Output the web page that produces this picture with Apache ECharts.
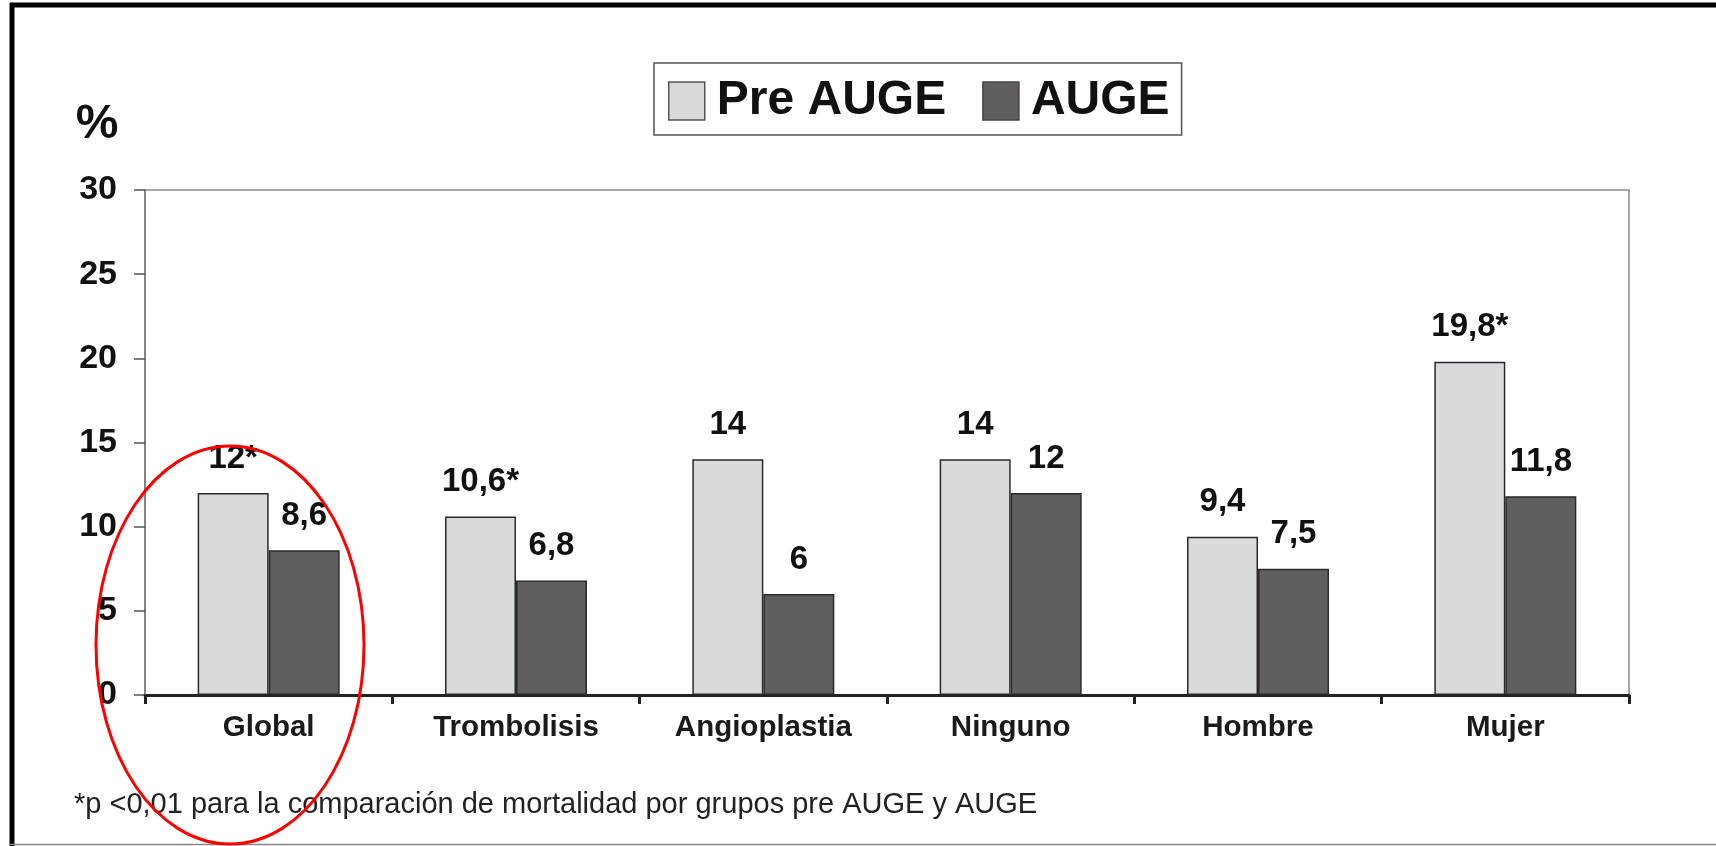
<!DOCTYPE html>
<html>
<head>
<meta charset="utf-8">
<script src="https://cdn.jsdelivr.net/npm/echarts@6/dist/echarts.min.js"></script>
<style>
html,body{margin:0;padding:0;background:#fff;}
#c{width:1716px;height:846px;}
</style>
</head>
<body>
<div id="c"></div>
<script>
const categories = ['Global', 'Trombolisis', 'Angioplastia', 'Ninguno', 'Hombre', 'Mujer'];
const preAuge = [12, 10.6, 14, 14, 9.4, 19.8];
const auge = [8.6, 6.8, 6, 12, 7.5, 11.8];
const preAugeLabels = ['12*', '10,6*', '14', '14', '9,4', '19,8*'];
const augeLabels = ['8,6', '6,8', '6', '12', '7,5', '11,8'];
const yTicks = [0, 5, 10, 15, 20, 25, 30];
const footnote = '*p <0,01 para la comparación de mortalidad por grupos pre AUGE y AUGE';

const FONT = '"Liberation Sans", Arial, Helvetica, sans-serif';
const PRE_COLOR = '#d9dadc';
const AUGE_COLOR = '#605e5f';
const BORDER = '#2a2a2a';

const chart = echarts.init(document.getElementById('c'), null, {renderer: 'canvas'});

const option = {
  backgroundColor: '#ffffff',
  animation: false,
  textStyle: {fontFamily: FONT},
  title: {
    text: footnote,
    left: 74,
    top: 790,
    padding: 0,
    textStyle: {fontFamily: FONT, fontSize: 29, fontWeight: 'normal', color: '#222'}
  },
  legend: {
    left: 654,
    top: 63,
    orient: 'horizontal',
    padding: [14, 12, 10, 14],
    borderColor: '#555',
    borderWidth: 1.5,
    itemWidth: 36,
    itemHeight: 38,
    itemGap: 36,
    icon: 'rect',
    textStyle: {fontFamily: FONT, fontSize: 48, fontWeight: 'bold', color: '#111', padding: [0, 0, 0, 7]},
    data: [
      {name: 'Pre AUGE', itemStyle: {color: PRE_COLOR, borderColor: '#555', borderWidth: 1.5}},
      {name: 'AUGE', itemStyle: {color: AUGE_COLOR, borderColor: '#444', borderWidth: 1.5}}
    ]
  },
  grid: {
    left: 145,
    right: 87,
    top: 190,
    bottom: 151,
    show: true,
    borderColor: '#8a8a8a',
    borderWidth: 1.5,
    backgroundColor: 'transparent'
  },
  xAxis: {
    type: 'category',
    data: categories,
    boundaryGap: true,
    axisLine: {show: true, lineStyle: {color: '#222', width: 3}},
    axisTick: {show: true, alignWithLabel: false, length: 9, lineStyle: {color: '#222', width: 3}},
    axisLabel: {fontFamily: FONT, fontSize: 29.5, fontWeight: 'bold', color: '#1a1a1a', margin: 18},
    splitLine: {show: false}
  },
  yAxis: {
    type: 'value',
    min: yTicks[0],
    max: yTicks[yTicks.length - 1],
    interval: 5,
    name: '%',
    nameLocation: 'end',
    nameGap: 41,
    nameTextStyle: {fontFamily: FONT, fontSize: 48, fontWeight: 'bold', color: '#111', align: 'center', padding: [0, 96, 0, 0]},
    axisLine: {show: true, lineStyle: {color: '#777', width: 1.5}},
    axisTick: {show: true, length: 11, lineStyle: {color: '#555', width: 1.5}},
    axisLabel: {fontFamily: FONT, fontSize: 34, fontWeight: 'bold', color: '#111', margin: 28},
    splitLine: {show: false}
  },
  series: [
    {
      name: 'Pre AUGE',
      type: 'bar',
      data: preAuge,
      barWidth: 71,
      barGap: '0%',
      itemStyle: {color: PRE_COLOR, borderColor: BORDER, borderWidth: 1.5},
      label: {
        show: true,
        position: 'top',
        distance: 18,
        fontFamily: FONT,
        fontSize: 33,
        fontWeight: 'bold',
        color: '#111',
        formatter: p => preAugeLabels[p.dataIndex]
      }
    },
    {
      name: 'AUGE',
      type: 'bar',
      data: auge,
      barWidth: 71,
      barGap: '0%',
      itemStyle: {color: AUGE_COLOR, borderColor: BORDER, borderWidth: 1.5},
      label: {
        show: true,
        position: 'top',
        distance: 18,
        fontFamily: FONT,
        fontSize: 33,
        fontWeight: 'bold',
        color: '#111',
        formatter: p => augeLabels[p.dataIndex]
      }
    }
  ],
  graphic: [
    {type: 'line', shape: {x1: 10, y1: 5, x2: 1716, y2: 5}, style: {stroke: '#000', lineWidth: 5}, silent: true},
    {type: 'line', shape: {x1: 12, y1: 3, x2: 12, y2: 846}, style: {stroke: '#000', lineWidth: 5}, silent: true},
    {type: 'line', shape: {x1: 10, y1: 844.5, x2: 1716, y2: 844.5}, style: {stroke: '#888', lineWidth: 1.5}, silent: true},
    {type: 'ellipse', shape: {cx: 230, cy: 645, rx: 134, ry: 199}, style: {stroke: '#f00', fill: null, lineWidth: 3}, silent: true, z: 100}
  ]
};

chart.setOption(option);
</script>
</body>
</html>
